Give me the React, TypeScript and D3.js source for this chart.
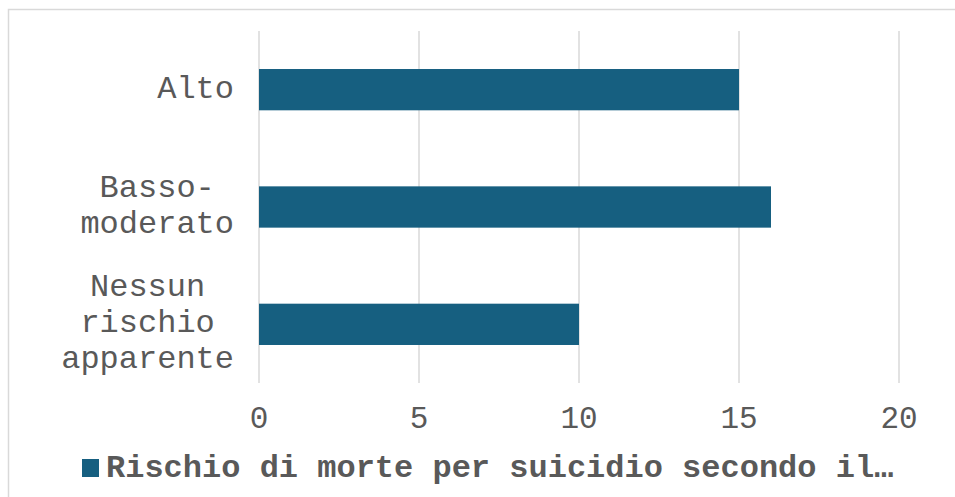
import React from "react";
import * as d3 from "d3";

const categories = ["Alto", "Basso-moderato", "Nessun rischio apparente"];
const values = [15, 16, 10];
const ticks = [0, 5, 10, 15, 20];
const seriesName = "Rischio di morte per suicidio secondo il…";

const W = 955;
const H = 497;
const FONT = "'Courier New', 'Nimbus Mono PS', 'Nimbus Mono L', FreeMono, Courier, 'Liberation Mono', monospace";
const TEXT = "#595959";
const GRID = "#d9d9d9";
const BAR = "#165f80";

function wrap(label: string, maxChars: number): string[] {
  const parts = label.replace(/-/g, "- ").split(" ").filter(Boolean);
  const lines: string[] = [];
  let cur = "";
  for (const p of parts) {
    const sep = cur === "" || cur.endsWith("-") ? "" : " ";
    if (cur && (cur + sep + p).length > maxChars) {
      lines.push(cur);
      cur = p;
    } else {
      cur = cur + sep + p;
    }
  }
  if (cur) lines.push(cur);
  return lines;
}

export default function App() {
  const x = d3.scaleLinear().domain([0, 20]).range([259, 899]);
  const y = d3
    .scaleBand<string>()
    .domain(categories)
    .range([31, 383])
    .paddingInner(0.648)
    .paddingOuter(0.324);

  const catFont = 32;
  const charW = catFont * 0.6;
  const lineH = 36;
  const labelRight = 234;

  return (
    <svg
      width={W}
      height={H}
      style={{ position: "absolute", left: 0, top: 0, background: "#fff" }}
    >
      <rect x={8.5} y={9.5} width={W + 10} height={H + 10} fill="#fff" stroke={GRID} strokeWidth={1.5} />
      {ticks.map((t) => (
        <line key={t} x1={x(t)} x2={x(t)} y1={31} y2={383} stroke={GRID} strokeWidth={1.5} />
      ))}
      {categories.map((c, i) => (
        <rect
          key={c}
          x={x(0)}
          y={y(c)!}
          width={x(values[i]) - x(0)}
          height={y.bandwidth()}
          fill={BAR}
        />
      ))}
      {categories.map((c) => {
        const lines = wrap(c, 9);
        const maxLen = d3.max(lines, (l) => l.length)!;
        const cx = labelRight - (maxLen * charW) / 2;
        const cy = y(c)! + y.bandwidth() / 2;
        return (
          <text key={c} fontFamily={FONT} fontSize={catFont} fill={TEXT} textAnchor="middle">
            {lines.map((l, i) => (
              <tspan key={i} x={cx} y={cy + (i - (lines.length - 1) / 2) * lineH + 8}>
                {l}
              </tspan>
            ))}
          </text>
        );
      })}
      {ticks.map((t) => (
        <text
          key={t}
          x={x(t)}
          y={428}
          fontFamily={FONT}
          fontSize={31}
          fill={TEXT}
          textAnchor="middle"
        >
          {t}
        </text>
      ))}
      <rect x={82} y={459} width={17} height={18} fill={BAR} />
      <text x={106} y={477} fontFamily={FONT} fontSize={32} fontWeight="bold" fill={TEXT}>
        {seriesName}
      </text>
    </svg>
  );
}
